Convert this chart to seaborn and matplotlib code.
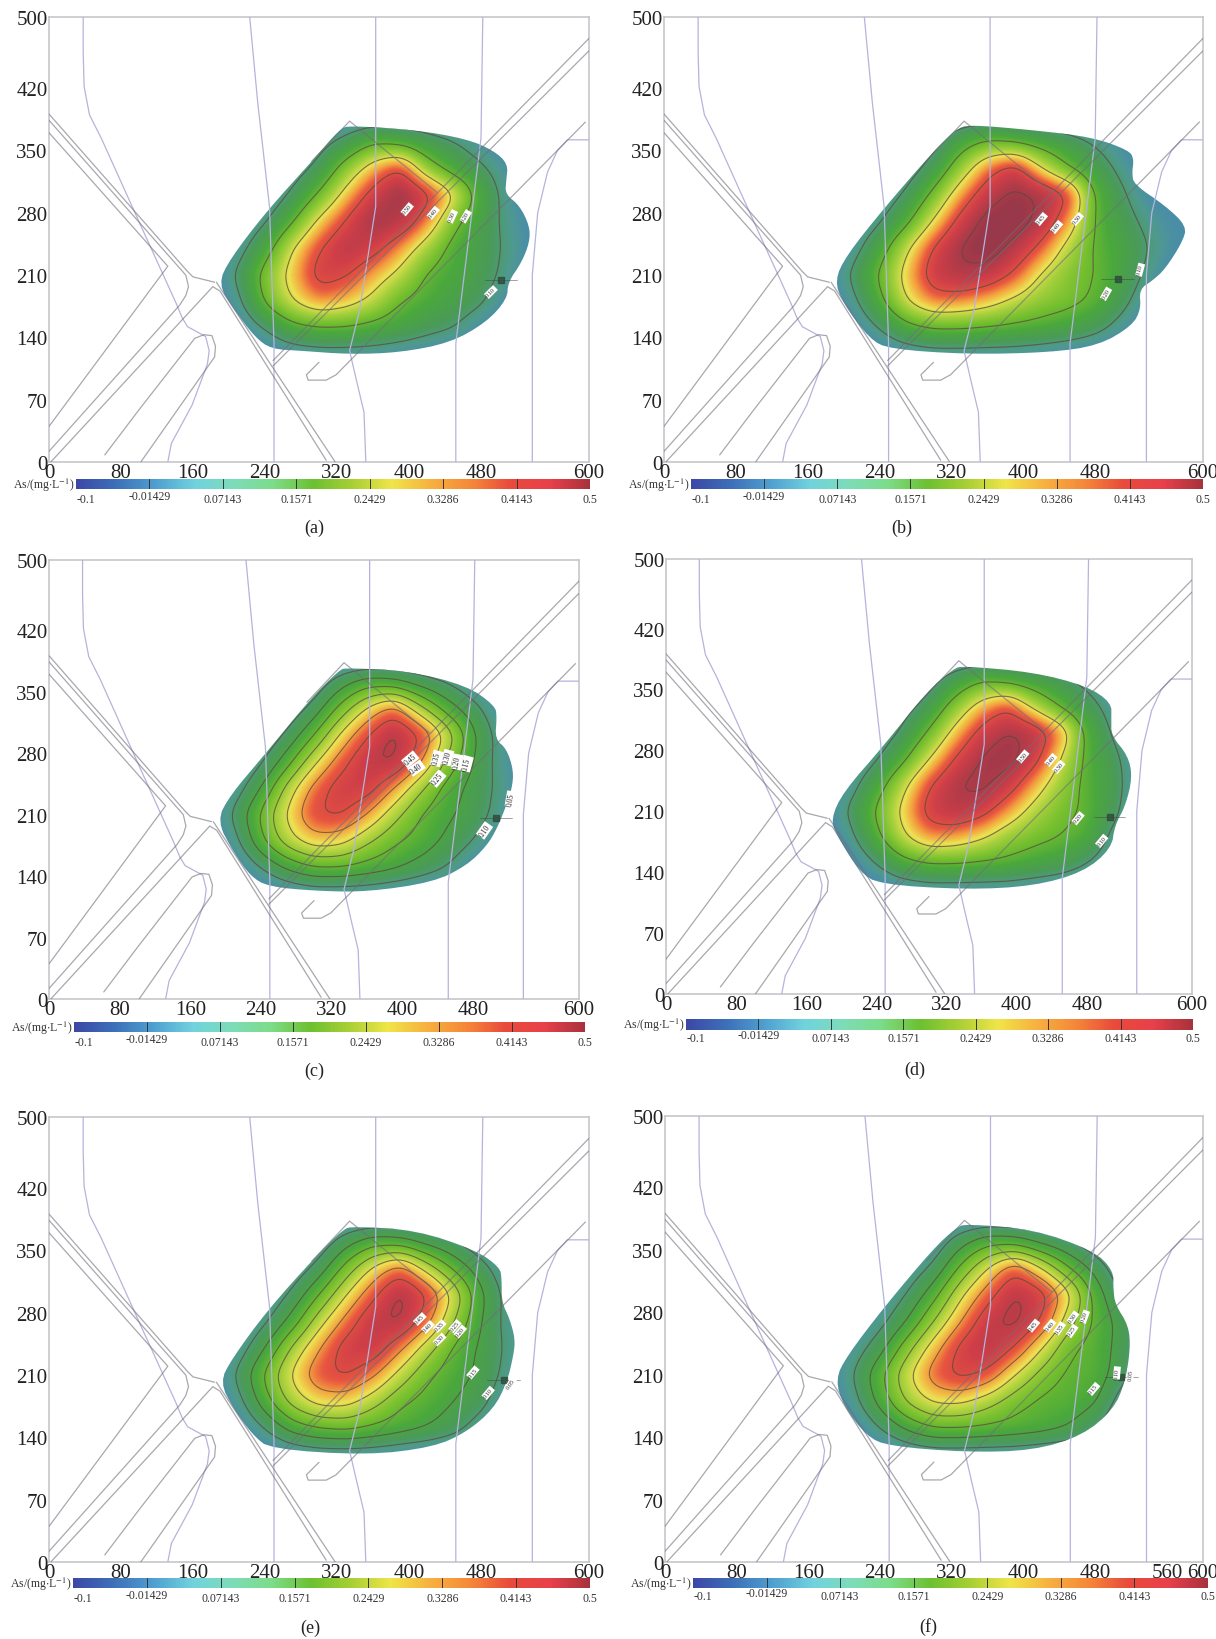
import numpy as np
import matplotlib
matplotlib.use("Agg")
import matplotlib.pyplot as plt
from matplotlib.cm import ScalarMappable
from matplotlib.colors import LinearSegmentedColormap, Normalize
from matplotlib.patches import Polygon
import seaborn as sns

sns.set_style("white")
plt.rcParams["font.family"] = ["Liberation Serif", "DejaVu Serif"]
plt.rcParams["mathtext.fontset"] = "stix"

# grid the concentration was read on
grid_x = [180, 210, 240, 270, 300, 330, 360, 390, 420, 450, 480, 510, 540, 570]
grid_y = [390, 360, 330, 300, 270, 240, 210, 180, 150, 120]

field_a = [
    [.02, .02, .02, .02, .03, .03, .03, .03, .03, .02, .02, .02, .02, .02],
    [.02, .02, .02, .02, .07, .12, .19, .17, .13, .10, .06, .03, .02, .02],
    [.02, .02, .03, .06, .12, .24, .34, .41, .24, .16, .11, .06, .02, .02],
    [.02, .03, .04, .11, .21, .33, .43, .50, .43, .31, .16, .07, .03, .02],
    [.02, .04, .09, .19, .32, .41, .49, .46, .36, .22, .14, .08, .04, .02],
    [.03, .07, .16, .30, .40, .46, .43, .35, .26, .17, .13, .09, .04, .02],
    [.04, .11, .23, .33, .43, .41, .34, .28, .19, .16, .13, .08, .03, .02],
    [.03, .08, .21, .30, .36, .33, .28, .20, .17, .14, .11, .05, .02, .02],
    [.02, .04, .10, .17, .19, .19, .17, .15, .12, .10, .05, .02, .02, .02],
    [.02, .02, .03, .05, .06, .06, .06, .05, .04, .03, .02, .02, .02, .02],
]
field_b = [
    [.02, .02, .02, .02, .03, .04, .04, .04, .03, .02, .02, .02, .02, .02],
    [.02, .02, .02, .03, .07, .16, .21, .19, .16, .13, .09, .05, .02, .02],
    [.02, .02, .03, .06, .13, .25, .37, .44, .30, .20, .14, .08, .03, .02],
    [.02, .03, .05, .11, .22, .35, .45, .50, .48, .41, .19, .11, .05, .03],
    [.02, .04, .09, .18, .31, .43, .51, .52, .46, .35, .19, .13, .08, .05],
    [.03, .07, .16, .29, .41, .49, .52, .46, .38, .27, .19, .15, .10, .05],
    [.04, .11, .21, .33, .44, .47, .45, .39, .29, .23, .20, .15, .08, .03],
    [.03, .08, .18, .30, .37, .36, .33, .28, .24, .22, .19, .12, .05, .02],
    [.02, .04, .10, .17, .20, .20, .19, .18, .17, .15, .12, .07, .03, .02],
    [.02, .02, .03, .05, .06, .06, .06, .06, .05, .04, .03, .02, .02, .02],
]
field_c = [
    [.02, .02, .02, .02, .03, .03, .03, .03, .03, .02, .02, .02, .02, .02],
    [.02, .02, .02, .02, .06, .13, .18, .17, .13, .10, .06, .03, .02, .02],
    [.02, .02, .03, .06, .12, .22, .31, .38, .27, .18, .12, .06, .02, .02],
    [.02, .03, .05, .11, .20, .31, .40, .47, .41, .29, .16, .08, .03, .02],
    [.02, .04, .09, .18, .29, .38, .45, .46, .36, .24, .15, .08, .04, .02],
    [.03, .07, .15, .27, .37, .43, .43, .35, .26, .18, .13, .09, .04, .02],
    [.04, .11, .21, .31, .40, .41, .35, .27, .20, .16, .13, .08, .03, .02],
    [.03, .08, .19, .28, .33, .32, .26, .21, .18, .14, .10, .05, .02, .02],
    [.02, .04, .10, .16, .20, .20, .18, .16, .13, .10, .05, .02, .02, .02],
    [.02, .02, .03, .05, .06, .06, .06, .05, .04, .03, .02, .02, .02, .02],
]
field_d = [
    [.02, .02, .02, .02, .03, .03, .03, .03, .03, .02, .02, .02, .02, .02],
    [.02, .02, .02, .02, .07, .14, .20, .18, .15, .12, .08, .04, .02, .02],
    [.02, .02, .03, .07, .13, .24, .34, .40, .28, .19, .13, .07, .02, .02],
    [.02, .03, .05, .11, .21, .33, .43, .48, .46, .36, .18, .09, .03, .02],
    [.02, .04, .09, .18, .30, .41, .48, .50, .43, .30, .18, .12, .05, .02],
    [.03, .07, .16, .28, .40, .47, .49, .44, .34, .25, .18, .13, .05, .02],
    [.04, .11, .21, .32, .43, .46, .43, .35, .27, .22, .19, .12, .04, .02],
    [.03, .08, .18, .29, .36, .35, .31, .25, .22, .20, .17, .08, .02, .02],
    [.02, .04, .10, .17, .20, .20, .19, .18, .16, .14, .10, .05, .02, .02],
    [.02, .02, .03, .05, .06, .06, .06, .06, .05, .04, .03, .02, .02, .02],
]
field_e = [
    [.02, .02, .02, .02, .03, .03, .03, .03, .03, .02, .02, .02, .02, .02],
    [.02, .02, .02, .02, .06, .13, .18, .17, .13, .10, .06, .03, .02, .02],
    [.02, .02, .03, .06, .12, .22, .31, .38, .28, .19, .12, .06, .02, .02],
    [.02, .03, .05, .11, .20, .30, .39, .47, .41, .29, .16, .08, .03, .02],
    [.02, .04, .09, .17, .28, .37, .45, .46, .37, .25, .15, .08, .04, .02],
    [.03, .07, .15, .26, .35, .43, .44, .36, .27, .19, .14, .09, .04, .02],
    [.04, .11, .21, .31, .39, .41, .36, .28, .21, .17, .14, .08, .03, .02],
    [.03, .08, .18, .27, .32, .32, .27, .21, .18, .15, .12, .05, .02, .02],
    [.02, .04, .10, .17, .20, .21, .19, .17, .15, .12, .07, .02, .02, .02],
    [.02, .02, .03, .05, .06, .06, .06, .05, .04, .03, .02, .02, .02, .02],
]
field_f = [
    [.02, .02, .02, .02, .03, .03, .03, .03, .03, .02, .02, .02, .02, .02],
    [.02, .02, .02, .02, .06, .13, .18, .17, .13, .10, .06, .03, .02, .02],
    [.02, .02, .03, .06, .11, .21, .30, .39, .30, .20, .13, .06, .02, .02],
    [.02, .03, .05, .10, .18, .29, .38, .46, .43, .32, .18, .09, .03, .02],
    [.02, .04, .08, .15, .25, .35, .44, .47, .40, .27, .19, .13, .05, .02],
    [.03, .07, .13, .23, .33, .42, .46, .40, .30, .21, .18, .13, .05, .02],
    [.04, .10, .19, .29, .38, .42, .39, .30, .23, .19, .18, .12, .04, .02],
    [.03, .08, .17, .26, .31, .31, .27, .22, .19, .18, .16, .07, .02, .02],
    [.02, .04, .10, .16, .20, .20, .19, .18, .17, .15, .10, .04, .02, .02],
    [.02, .02, .03, .05, .06, .06, .06, .06, .05, .04, .03, .02, .02, .02],
]

# plume outlines
outline_a = [(188, 200), (201, 228), (242, 282), (294, 340), (323, 374), (334, 378), (408, 373), (464, 363),
             (494, 350), (510, 335), (508, 316), (507, 301), (523, 288), (534, 265), (534, 247), (525, 224),
             (510, 202), (509, 183), (486, 157), (446, 134), (390, 123), (334, 121), (279, 125), (247, 127),
             (229, 140), (205, 172)]
outline_b = [(190, 204), (203, 232), (244, 284), (299, 348), (325, 374), (340, 379), (410, 373), (477, 365),
             (518, 350), (523, 340), (521, 325), (523, 312), (558, 288), (582, 265), (577, 247), (558, 217),
             (544, 204), (529, 194), (531, 172), (521, 153), (484, 131), (429, 123), (336, 121), (251, 127),
             (229, 138), (199, 179)]
outline_c = [(190, 203), (205, 232), (243, 277), (296, 342), (329, 375), (337, 377), (405, 374), (473, 357),
             (505, 334), (507, 321), (505, 296), (518, 285), (526, 260), (524, 239), (516, 216), (507, 194),
             (496, 175), (473, 152), (435, 133), (360, 122), (303, 123), (248, 128), (228, 140), (209, 167)]
outline_d = [(188, 201), (202, 232), (248, 285), (297, 347), (328, 374), (339, 377), (419, 370), (480, 354),
             (508, 335), (508, 316), (508, 297), (527, 274), (532, 249), (524, 216), (512, 194), (508, 167),
             (476, 140), (419, 124), (343, 120), (244, 126), (221, 140), (195, 182)]
outline_e = [(190, 202), (203, 228), (242, 282), (297, 344), (327, 374), (338, 377), (408, 373), (475, 350),
             (501, 331), (503, 318), (503, 292), (512, 273), (518, 250), (516, 232), (509, 202), (494, 172),
             (464, 146), (427, 129), (353, 120), (246, 127), (227, 142), (205, 172)]
outline_f = [(190, 205), (203, 231), (243, 284), (299, 351), (325, 375), (336, 379), (411, 373), (478, 349),
             (500, 327), (500, 306), (502, 289), (517, 265), (519, 239), (513, 201), (500, 171), (466, 142),
             (411, 125), (336, 123), (249, 130), (225, 141), (199, 175)]

# contour labels: x, y, text, angle
labels_a = [(398, 284, "0.50", 50), (427, 280, "0.40", 50), (448, 276, "0.30", 65), (463, 276, "0.20", 60),
            (491, 191, "0.10", 45)]
labels_b = [(420, 273, "0.45", 50), (437, 264, "0.40", 50), (460, 273, "0.30", 50), (492, 189, "0.20", 60),
            (530, 216, "0.10", 75)]
labels_c = [(409, 273, "0.45", 40), (416, 263, "0.40", 35), (439, 274, "0.35", 75), (451, 275, "0.30", 75),
            (440, 251, "0.25", 50), (462, 270, "0.20", 80), (473, 268, "0.15", 75), (493, 192, "0.10", 55),
            (523, 228, "0.05", 80)]
labels_d = [(407, 273, "0.50", 50), (439, 269, "0.40", 50), (448, 261, "0.30", 50), (470, 202, "0.20", 50),
            (497, 176, "0.10", 50)]
labels_e = [(412, 273, "0.45", 45), (421, 264, "0.40", 45), (434, 265, "0.35", 45), (434, 250, "0.30", 45),
            (451, 265, "0.25", 50), (457, 259, "0.20", 50), (471, 213, "0.15", 50), (488, 190, "0.10", 50),
            (513, 200, "0.05", 55)]
labels_f = [(411, 265, "0.45", 50), (429, 265, "0.40", 50), (440, 262, "0.35", 55), (455, 274, "0.30", 55),
            (454, 259, "0.25", 55), (468, 275, "0.20", 70), (478, 194, "0.15", 50), (504, 212, "0.10", 85),
            (519, 210, "0.05", 85)]

well_a = (502, 205)
well_b = (505, 206)
well_c = (506, 206)
well_d = (506, 204)
well_e = (505, 204)
well_f = (509, 207)

levels_sparse = [.10, .20, .30, .40, .475]
levels_dense = [.05, .10, .15, .20, .25, .30, .35, .40, .45]

# roads
road_1x, road_1y = [0, 154, 160, 184], [391, 214, 208, 202]
road_2x, road_2y = [0, 152, 155, 152, 145, 0], [384, 210, 197, 187, 176, 12]
road_3x, road_3y = [0, 132, 0], [370, 220, 40]
road_4x, road_4y = [2, 182, 190, 308], [0, 197, 192, 2]
road_5x, road_5y = [186, 318], [202, 0]
road_6x, road_6y = [249, 600], [114, 476]
road_7x, road_7y = [249, 600], [108, 462]
road_8x, road_8y = [300, 286, 288, 308, 319, 596], [112, 98, 92, 92, 98, 382]
road_9x, road_9y = [292, 334, 431, 600], [338, 383, 303, 420]
road_10x, road_10y = [62, 101, 162, 172, 181, 185, 184, 102], [8, 60, 139, 143, 142, 130, 118, 0]
roads_x = [road_1x, road_2x, road_3x, road_4x, road_5x, road_6x, road_7x, road_8x, road_10x]
roads_y = [road_1y, road_2y, road_3y, road_4y, road_5y, road_6y, road_7y, road_8y, road_10y]
apex_x, apex_y = [292, 334, 431], [338, 383, 303]

# streams
river_1x, river_1y = [38, 38, 39, 45, 58, 100, 141, 148, 154, 174, 178, 176, 159, 136, 132], \
    [500, 460, 422, 390, 364, 270, 179, 162, 152, 141, 125, 110, 64, 21, 0]
river_2x, river_2y = [223, 232, 245, 250, 250], [500, 403, 287, 133, 0]
river_3x, river_3y = [363, 363, 345, 334, 342, 350, 352], [500, 287, 170, 125, 90, 56, 0]
river_4x, river_4y = [482, 480, 465, 452, 452], [500, 364, 240, 133, 0]
river_5x, river_5y = [537, 537, 543, 554, 565, 576, 600], [0, 210, 280, 326, 350, 362, 362]
rivers_x = [river_1x, river_2x, river_3x, river_4x, river_5x]
rivers_y = [river_1y, river_2y, river_3y, river_4y, river_5y]

y_ticks = [0, 70, 140, 210, 280, 350, 420, 500]
x_ticks = [0, 80, 160, 240, 320, 400, 480, 600]
x_ticks_f = [0, 80, 160, 240, 320, 400, 480, 560, 600]
bar_ticks = [-0.1, -0.01429, 0.07143, 0.1571, 0.2429, 0.3286, 0.4143, 0.5]
bar_labels = ["-0.1", "-0.01429", "0.07143", "0.1571", "0.2429", "0.3286", "0.4143", "0.5"]

bar_colors = ["#3c48a6", "#3d6fb8", "#4f9fd0", "#70d2de", "#7cdcb8", "#7cdc88", "#6cc030", "#a8cf35",
              "#efe548", "#f7b040", "#f58838", "#e84a3c", "#e8404a", "#a8323c"]
plume_colors = [(0.00, "#4a86a8"), (0.07, "#4b8fa6"), (0.12, "#4f9a8e"), (0.20, "#4a9a58"), (0.30, "#4aa83c"),
                (0.40, "#72be2e"), (0.50, "#a6d03c"), (0.60, "#ece252"), (0.68, "#f4a03e"), (0.75, "#e85640"),
                (0.85, "#d03f48"), (1.00, "#98384a")]

W, H = 1216, 1640
plume_cmap = LinearSegmentedColormap.from_list("plume", plume_colors)
bar_cmap = sns.blend_palette(bar_colors, as_cmap=True)


def smooth_field(rows):
    # fine raster of the grid that was read, only for drawing
    z = np.array(rows, dtype=float)[::-1]
    gy = np.array(grid_y[::-1], dtype=float)
    gx = np.array(grid_x, dtype=float)
    xf = np.arange(170, 601, 4.0)
    yf = np.arange(110, 401, 4.0)
    z = np.array([np.interp(xf, gx, row) for row in z])
    z = np.array([np.interp(yf, gy, col) for col in z.T]).T
    k = np.ones(5) / 5
    for _ in range(2):
        z = np.array([np.convolve(np.pad(r, 2, mode="edge"), k, mode="valid") for r in z])
        z = np.array([np.convolve(np.pad(c, 2, mode="edge"), k, mode="valid") for c in z.T]).T
    return xf, yf, z


def round_corners(points):
    pts = np.array(points, dtype=float)
    for _ in range(2):
        nxt = np.roll(pts, -1, axis=0)
        pts = np.column_stack([.75 * pts + .25 * nxt, .25 * pts + .75 * nxt]).reshape(-1, 2)
    return pts


def add_axes(box):
    left, right, top, bottom = box
    return plt.gcf().add_axes([left / W, 1 - bottom / H, (right - left) / W, (bottom - top) / H])


def draw_panel(box, bar_box, bar_text_y, letter, letter_xy, field, outline, labels, well, levels, xticks, label_size):
    ax = add_axes(box)
    xf, yf, z = smooth_field(field)
    clip = Polygon(round_corners(outline), closed=True, transform=ax.transData, fc="none", ec="none")
    ax.add_patch(clip)
    img = ax.imshow(z, extent=[xf[0], xf[-1], yf[0], yf[-1]], origin="lower", aspect="auto", cmap=plume_cmap,
                    norm=Normalize(0.02, 0.5), interpolation="bilinear", zorder=1)
    img.set_clip_path(clip)
    cs = ax.contour(xf, yf, z, levels=levels, colors="#5a4a3c", linewidths=0.8, alpha=0.75, zorder=2)
    cs.set_clip_path(clip)

    for rx, ry in zip(rivers_x, rivers_y):
        sns.lineplot(x=rx, y=ry, sort=False, estimator=None, color="#b4b4dc", linewidth=0.9, ax=ax, zorder=3)
    for rx, ry in zip(roads_x, roads_y):
        sns.lineplot(x=rx, y=ry, sort=False, estimator=None, color="#6e6e78", alpha=0.6, linewidth=0.9, ax=ax, zorder=3)
    sns.lineplot(x=apex_x, y=apex_y, sort=False, estimator=None, color="#6e6e78", alpha=0.6, linewidth=0.9, ax=ax, zorder=3)

    ax.plot([well[0] - 18, well[0] + 18], [well[1], well[1]], color="#444444", lw=0.5, alpha=0.7, zorder=4)
    ax.plot(well[0], well[1], marker="s", ms=4, color="#2f4a3a", alpha=0.8, zorder=4)
    for lx, ly, txt, rot in labels:
        ax.text(lx, ly, txt, fontsize=label_size, rotation=rot, ha="center", va="center", color="#222222", zorder=5,
                bbox=dict(boxstyle="square,pad=0.15", fc="white", ec="none"))

    ax.set_xlim(0, 600)
    ax.set_ylim(0, 500)
    ax.set_xticks(xticks)
    ax.set_yticks(y_ticks)
    ax.tick_params(length=0, labelsize=15, pad=1, labelcolor="#222222")
    for side in ax.spines.values():
        side.set_color("#c6c6cc")
        side.set_linewidth(1.2)

    cax = add_axes(bar_box)
    sm = ScalarMappable(norm=Normalize(-0.1, 0.5), cmap=bar_cmap)
    cbar = plt.gcf().colorbar(sm, cax=cax, orientation="horizontal")
    cbar.outline.set_visible(False)
    cbar.set_ticks([])
    for t in bar_ticks[1:-1]:
        cax.axvline(t, color="#333333", lw=0.7)
    px = np.linspace(bar_box[0], bar_box[1], len(bar_ticks))
    for i, (p, txt) in enumerate(zip(px, bar_labels)):
        dy = -3 if i == 1 else 0
        if i == 0:
            p += 10
        plt.gcf().text(p / W, 1 - (bar_text_y + dy) / H, txt, fontsize=8.5, ha="center", va="center", color="#333333")
    plt.gcf().text((bar_box[0] - 2) / W, 1 - ((bar_box[2] + bar_box[3]) / 2 + 0) / H, r"As/(mg$\cdot$L$^{-1}$)",
                   fontsize=8.5, ha="right", va="center", color="#333333")
    plt.gcf().text(letter_xy[0] / W, 1 - letter_xy[1] / H, letter, fontsize=13, ha="center", va="center", color="#222222")


fig = plt.figure(figsize=(W / 100, H / 100), dpi=100)

draw_panel((49, 589, 18, 463), (76, 590, 480, 490), 500, "(a)", (314, 528), field_a, outline_a, labels_a, well_a,
           levels_sparse, x_ticks, 4.5)
draw_panel((664, 1203, 18, 463), (691, 1203, 480, 490), 500, "(b)", (902, 528), field_b, outline_b, labels_b, well_b,
           [.10, .20, .30, .40, .48], x_ticks, 4.5)
draw_panel((49, 579, 561, 1000), (74, 585, 1023, 1033), 1043, "(c)", (314, 1071), field_c, outline_c, labels_c, well_c,
           levels_dense, x_ticks, 5.5)
draw_panel((666, 1192, 560, 995), (686, 1193, 1020, 1031), 1039, "(d)", (915, 1070), field_d, outline_d, labels_d, well_d,
           [.10, .20, .30, .40, .47], x_ticks, 4.5)
draw_panel((49, 589, 1118, 1563), (73, 590, 1579, 1589), 1599, "(e)", (310, 1628), field_e, outline_e, labels_e, well_e,
           levels_dense, x_ticks, 4.5)
draw_panel((665, 1203, 1117, 1563), (693, 1208, 1579, 1589), 1597, "(f)", (928, 1627), field_f, outline_f, labels_f, well_f,
           levels_dense, x_ticks_f, 4.5)

fig.savefig("out.png", dpi=100)
